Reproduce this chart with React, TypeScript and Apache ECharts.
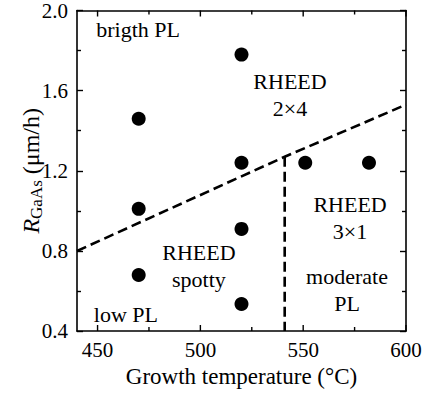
import React, { useEffect, useRef } from "react";
import * as echarts from "echarts";

const pointsX = [470, 470, 470, 520, 520, 520, 520, 551, 582];
const pointsY = [1.46, 1.01, 0.68, 1.78, 1.24, 0.91, 0.535, 1.24, 1.24];
const boundaryX = [440, 541, 600];
const boundaryY = [0.8, 1.27, 1.53];
const dividerX = [541, 541];
const dividerY = [1.27, 0.4];
const xMajorTicks = [450, 500, 550, 600];
const xMinorTicks = [475, 525, 575];
const regionLabels = ["brigth PL", "RHEED\n2×4", "RHEED\nspotty", "RHEED\n3×1", "moderate\nPL", "low PL"];
const regionX = [469.7, 543.6, 499.3, 572.8, 571.3, 463.8];
const regionY = [1.905, 1.58, 0.725, 0.962, 0.607, 0.485];

const X_MIN = 440;
const X_MAX = 600;
const Y_MIN = 0.4;
const Y_MAX = 2.0;
const Y_INTERVAL = 0.4;
// inward x-tick lengths, in y-axis units (major / minor)
const MAJOR_LEN = 0.03;
const MINOR_LEN = 0.02;

const FONT = "Liberation Serif";
const AXIS_LINE = { show: true, onZero: false, lineStyle: { color: "#000", width: 1.6 } };
const Y_TICK = { show: true, inside: true, length: 6, lineStyle: { color: "#000", width: 1.4 } };
const Y_MINOR = { show: true, splitNumber: 2, length: 4, lineStyle: { color: "#000", width: 1.4 } };

function xTickSeries(): any[] {
  const list: any[] = [];
  const add = (v: number, len: number) => {
    list.push({
      type: "line",
      data: [[v, Y_MIN], [v, Y_MIN + len]],
      symbol: "none",
      silent: true,
      lineStyle: { color: "#000", width: 1.4 },
    });
    list.push({
      type: "line",
      data: [[v, Y_MAX], [v, Y_MAX - len]],
      symbol: "none",
      silent: true,
      lineStyle: { color: "#000", width: 1.4 },
    });
  };
  xMajorTicks.forEach((v) => add(v, MAJOR_LEN));
  xMinorTicks.forEach((v) => add(v, MINOR_LEN));
  return list;
}

export default function App() {
  const ref = useRef<HTMLDivElement>(null);
  useEffect(() => {
    if (!ref.current) return;
    const chart = echarts.init(ref.current, null, { renderer: "svg" });

    chart.setOption({
      animation: false,
      backgroundColor: "#fff",
      grid: { left: 77, top: 7, width: 329, height: 329, show: false },
      xAxis: [
        {
          type: "value",
          position: "bottom",
          min: X_MIN,
          max: X_MAX,
          name: "Growth temperature (°C)",
          nameLocation: "middle",
          nameGap: 29,
          nameTextStyle: { fontFamily: FONT, fontSize: 23, color: "#000" },
          axisLine: AXIS_LINE,
          splitLine: { show: false },
          axisTick: { show: false },
          axisLabel: { show: true, customValues: xMajorTicks, margin: 8, fontFamily: FONT, fontSize: 21, color: "#000" },
        },
        {
          type: "value",
          position: "top",
          min: X_MIN,
          max: X_MAX,
          axisLine: AXIS_LINE,
          splitLine: { show: false },
          axisTick: { show: false },
          axisLabel: { show: false },
        },
      ],
      yAxis: [
        {
          type: "value",
          position: "left",
          min: Y_MIN,
          max: Y_MAX,
          interval: Y_INTERVAL,
          name: "{i|R}{sub|GaAs}{n| (μm/h)}",
          nameLocation: "middle",
          nameGap: 32,
          nameMoveOverlap: false,
          nameTextStyle: {
            fontFamily: FONT,
            fontSize: 24,
            color: "#000",
            rich: {
              i: { fontFamily: FONT, fontSize: 24, fontStyle: "italic", color: "#000" },
              sub: { fontFamily: FONT, fontSize: 17, color: "#000", padding: [12, 0, 0, 0] },
              n: { fontFamily: FONT, fontSize: 24, color: "#000" },
            },
          },
          axisLine: AXIS_LINE,
          splitLine: { show: false },
          axisTick: Y_TICK,
          minorTick: Y_MINOR,
          minorSplitLine: { show: false },
          axisLabel: {
            show: true,
            margin: 9,
            fontFamily: FONT,
            fontSize: 21,
            color: "#000",
            formatter: (v: number) => v.toFixed(1),
          },
        },
        {
          type: "value",
          position: "right",
          min: Y_MIN,
          max: Y_MAX,
          interval: Y_INTERVAL,
          axisLine: AXIS_LINE,
          splitLine: { show: false },
          axisTick: Y_TICK,
          minorTick: Y_MINOR,
          minorSplitLine: { show: false },
          axisLabel: { show: false },
        },
      ],
      series: [
        ...xTickSeries(),
        {
          type: "line",
          data: boundaryX.map((x, i) => [x, boundaryY[i]]),
          symbol: "none",
          lineStyle: { color: "#000", width: 2.6, type: [10, 5] },
        },
        {
          type: "line",
          data: dividerX.map((x, i) => [x, dividerY[i]]),
          symbol: "none",
          lineStyle: { color: "#000", width: 2.6, type: [10, 5] },
        },
        {
          type: "scatter",
          data: pointsX.map((x, i) => [x, pointsY[i]]),
          symbol: "circle",
          symbolSize: 14,
          itemStyle: { color: "#000", opacity: 1 },
        },
        {
          type: "scatter",
          data: regionLabels.map((t, i) => ({ name: t, value: [regionX[i], regionY[i]] })),
          symbolSize: 1,
          itemStyle: { color: "rgba(0,0,0,0)", opacity: 1 },
          label: {
            show: true,
            position: "inside",
            formatter: "{b}",
            fontFamily: FONT,
            fontSize: 22,
            lineHeight: 27,
            color: "#000",
            opacity: 1,
            align: "center",
            verticalAlign: "middle",
          },
          z: 5,
        },
      ],
    });
    return () => chart.dispose();
  }, []);
  return <div ref={ref} style={{ position: "fixed", left: 0, top: 0, width: 425, height: 393 }} />;
}
